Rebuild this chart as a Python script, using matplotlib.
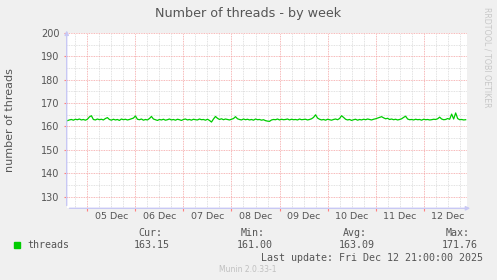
import matplotlib
matplotlib.use("Agg")
import matplotlib.pyplot as plt
import matplotlib.dates as mdates
from matplotlib.patches import Rectangle
import numpy as np
import pandas as pd

# dados (uma amostra por hora)
threads = [
    162.5, 162.8, 163.0, 162.7, 163.1, 162.9, 163.2, 162.8, 163.0, 162.7,
    163.1, 164.1, 164.6, 163.0, 162.8, 163.2, 162.9, 163.1, 162.8, 163.4,
    163.8, 163.0, 162.7, 163.1, 162.8, 163.0, 162.6, 163.2, 162.9, 163.1,
    162.8, 163.0, 163.3, 163.6, 164.5, 163.1, 162.9, 163.2, 162.7, 163.0,
    162.8, 163.4, 164.3, 163.2, 162.9, 162.6, 163.0, 162.8, 163.1, 162.7,
    162.9, 163.2, 162.8, 163.0, 162.7, 163.1, 162.9, 162.6, 163.0, 163.2,
    162.8, 163.0, 162.7, 163.1, 162.9, 162.8, 163.2, 162.9, 163.0, 162.7,
    163.1, 162.6, 161.9, 163.2, 164.3, 163.5, 163.0, 163.3, 162.9, 163.2,
    163.0, 162.8, 163.1, 163.4, 164.2, 163.3, 163.0, 162.8, 163.2, 162.9,
    163.1, 162.8, 163.0, 162.7, 163.2, 162.9, 163.0, 162.7, 162.9, 162.5,
    162.3, 162.2, 162.8, 163.0, 162.9, 163.2, 162.8, 163.1, 162.9, 163.0,
    163.2, 162.8, 163.1, 162.9, 163.0, 162.8, 163.2, 162.9, 163.0, 163.1,
    162.8, 163.0, 163.3, 163.9, 165.0, 163.6, 163.1, 162.8, 163.0, 162.7,
    163.1, 162.9, 162.7, 163.0, 163.2, 162.9, 163.4, 164.6, 163.9, 163.1,
    162.8, 163.0, 162.6, 162.9, 163.1, 162.7, 163.0, 162.8, 163.1, 162.9,
    163.2, 163.0, 162.8, 163.1, 163.3, 163.6, 163.9, 164.2, 163.7, 163.3,
    163.5, 163.0, 163.2, 162.9, 163.1, 162.8, 163.0, 163.3, 163.9, 164.4,
    163.2, 162.9, 163.0, 162.8, 163.1, 162.9, 163.0, 162.7, 163.1, 162.9,
    163.0, 162.8, 162.9, 163.1, 163.0, 163.3, 164.0, 163.2, 162.9, 163.0,
    163.4, 163.1, 165.3, 163.2, 165.8, 163.4, 162.9, 163.0, 162.8, 162.9,
]
times = pd.date_range(end="2025-12-12 21:00", periods=len(threads), freq="1h")

stat_names = ["Cur:", "Min:", "Avg:", "Max:"]
stat_values = ["163.15", "161.00", "163.09", "171.76"]
last_update = "Last update: Fri Dec 12 21:00:00 2025"

W, H = 497, 280
fig = plt.figure(figsize=(W / 100, H / 100), dpi=100, facecolor="#F0F0F0")

def px(x, y):
    return x / W, 1 - y / H

left, right, top, bottom = 66.7, 467, 33, 208.3
ax = fig.add_axes([left / W, 1 - bottom / H, (right - left) / W, (bottom - top) / H])
ax.set_facecolor("white")

ax.plot(times, threads, color="#00CC00", lw=0.9, zorder=3)

ax.set_xlim(pd.Timestamp("2025-12-04 13:40"), pd.Timestamp("2025-12-12 21:40"))
ax.set_ylim(125, 200)

# eixo x
ax.xaxis.set_major_locator(mdates.DayLocator())
ax.xaxis.set_major_formatter(plt.NullFormatter())
ax.xaxis.set_minor_locator(mdates.HourLocator(byhour=[6, 12, 18]))
ax.xaxis.set_minor_formatter(plt.FuncFormatter(
    lambda v, p: mdates.num2date(v).strftime("%d %b") if mdates.num2date(v).hour == 12 else ""))
ax.tick_params(axis="x", which="major", length=2, color="#FF8080", pad=0)
ax.tick_params(axis="x", which="minor", length=0, pad=3, labelsize=6.8, labelcolor="#555555")

# eixo y
ax.set_yticks(np.arange(130, 201, 10))
ax.set_yticks(np.arange(125, 201, 5), minor=True)
ax.tick_params(axis="y", which="major", length=2, color="#FF8080", pad=3,
               labelsize=7, labelcolor="#555555")
ax.tick_params(axis="y", which="minor", length=0)

ax.grid(which="minor", color="#D8D8D8", ls=(0, (1, 1)), lw=0.6)
ax.grid(which="major", color="#F4A0A0", ls=(0, (1, 1)), lw=0.6)
ax.set_axisbelow(True)

for s in ax.spines.values():
    s.set_visible(False)
ax.annotate("", xy=(1.015, 0), xytext=(0, 0), xycoords="axes fraction",
            arrowprops=dict(arrowstyle="-|>", color="#C8C8F4", lw=1, mutation_scale=6),
            annotation_clip=False)
ax.annotate("", xy=(0, 1.03), xytext=(0, 0), xycoords="axes fraction",
            arrowprops=dict(arrowstyle="-|>", color="#C8C8F4", lw=1, mutation_scale=6),
            annotation_clip=False)

fig.text(*px(248, 14), "Number of threads - by week", ha="center", va="center",
         fontsize=9.2, color="#555555")
fig.text(*px(10, 120), "number of threads", ha="center", va="center",
         rotation=90, fontsize=8, color="#555555")
fig.text(*px(487, 57), "RRDTOOL / TOBI OETIKER", ha="center", va="center",
         rotation=-90, fontsize=5.7, color="#C8C8C8")

# legenda
mono = dict(family="DejaVu Sans Mono", fontsize=7.2, color="#555555", va="center")
fig.patches.append(Rectangle(px(14, 248), 6 / W, 6 / H, transform=fig.transFigure,
                             color="#00CC00"))
fig.text(*px(27, 245), "threads", ha="left", **mono)
stat_x = [170, 273, 375, 478]
for sx, nm, val in zip(stat_x, stat_names, stat_values):
    fig.text(*px(sx - 8, 233), nm, ha="right", **mono)
    fig.text(*px(sx, 245), val, ha="right", **mono)
fig.text(*px(483, 258), last_update, ha="right", **mono)
fig.text(*px(248, 269), "Munin 2.0.33-1", ha="center", va="center",
         fontsize=5.5, color="#C0C0C0")

fig.savefig("out.png", dpi=100, facecolor=fig.get_facecolor())
